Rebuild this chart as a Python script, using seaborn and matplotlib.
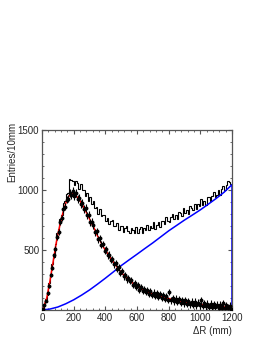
import numpy as np
import matplotlib
matplotlib.use('Agg')
import matplotlib.pyplot as plt
import seaborn as sns
from matplotlib.ticker import MultipleLocator, FixedLocator

# 10 mm bins, 0 - 1200 mm
bin_width = 10
centres = np.arange(5, 1200, bin_width)
edges = np.arange(0, 1201, bin_width)

# total histogram (signal + background)
hist_total = [16, 38, 90, 128, 222, 284, 386, 444, 548, 638,
              672, 758, 795, 894, 909, 964, 977, 1096, 1088, 1072,
              1044, 1076, 1055, 1011, 1050, 1001, 1002, 954, 972, 910,
              939, 885, 909, 847, 855, 802, 844, 786, 788, 794,
              740, 765, 713, 740, 752, 698, 701, 722, 663, 699,
              701, 654, 681, 699, 655, 640, 685, 669, 646, 693,
              642, 676, 692, 641, 681, 665, 708, 663, 704, 686,
              731, 679, 705, 737, 691, 745, 739, 719, 778, 742,
              732, 778, 798, 760, 790, 756, 814, 805, 785, 850,
              806, 836, 804, 864, 851, 833, 888, 840, 883, 869,
              922, 873, 906, 879, 942, 939, 908, 949, 982, 940,
              961, 1004, 963, 1008, 1034, 1002, 1045, 1077, 1069, 1051]

# background subtracted signal points and their errors
signal_pts = [10, 45, 72, 138, 198, 292, 352, 455, 510, 610,
              648, 735, 768, 840, 860, 920, 928, 975, 955, 990,
              950, 972, 925, 938, 885, 895, 840, 850, 790, 795,
              730, 735, 705, 650, 655, 590, 600, 545, 550, 495,
              505, 455, 462, 418, 425, 380, 392, 345, 355, 310,
              325, 280, 295, 255, 270, 238, 250, 210, 228, 195,
              205, 170, 195, 160, 178, 150, 168, 135, 160, 125,
              145, 118, 138, 108, 130, 100, 122, 95, 115, 85,
              150, 80, 100, 72, 95, 70, 88, 62, 82, 58,
              80, 52, 75, 48, 70, 45, 68, 40, 62, 38,
              80, 35, 55, 30, 52, 28, 50, 25, 48, 22,
              45, 20, 42, 18, 55, 15, 38, 16, 30, 12]
signal_err = [4, 6, 9, 11, 15, 17, 20, 21, 23, 25,
              26, 28, 28, 30, 30, 31, 31, 33, 33, 33,
              32, 33, 32, 32, 32, 32, 32, 31, 31, 30,
              31, 30, 30, 29, 29, 28, 29, 28, 28, 28,
              27, 28, 27, 27, 27, 26, 26, 27, 26, 26,
              26, 26, 26, 26, 26, 25, 26, 26, 25, 26,
              25, 26, 26, 25, 26, 26, 27, 26, 27, 26,
              27, 26, 27, 27, 26, 27, 27, 27, 28, 27,
              27, 28, 28, 28, 28, 28, 29, 28, 28, 29,
              28, 29, 28, 29, 29, 29, 30, 29, 30, 29,
              30, 30, 30, 30, 31, 31, 30, 31, 31, 31,
              31, 32, 31, 32, 32, 32, 32, 33, 33, 32]

# signal fit curve
fit_x = [0, 10, 30, 50, 70, 90, 110, 130, 150, 170, 190,
         210, 230, 250, 270, 290, 310, 330, 350, 370, 390,
         410, 430, 450, 470, 490, 510, 530, 550, 570, 590,
         610, 630, 650, 670, 690, 710, 730, 750, 770, 790,
         810, 830, 850, 870, 890, 910, 930, 950, 970, 990,
         1010, 1030, 1050, 1070, 1090, 1110, 1130, 1150, 1170, 1190, 1200]
fit_y = [0, 25, 100, 240, 400, 560, 690, 800, 890, 950, 970,
         960, 930, 890, 840, 790, 730, 680, 620, 570, 520,
         480, 440, 400, 365, 330, 300, 275, 250, 228, 208,
         190, 175, 162, 150, 140, 130, 122, 114, 106, 99,
         92, 86, 80, 75, 70, 65, 60, 56, 52, 48,
         45, 42, 39, 36, 33, 31, 28, 26, 24, 22, 21]

# background curve (drops to zero at the end of the range)
bg_x = [0, 50, 100, 150, 200, 250, 300, 350, 400, 450, 500, 550, 600,
        650, 700, 750, 800, 850, 900, 950, 1000, 1050, 1100, 1150, 1200, 1200]
bg_y = [0, 8, 25, 52, 85, 124, 167, 215, 265, 317, 370, 418, 465,
        513, 560, 610, 660, 705, 750, 792, 835, 882, 930, 982, 1045, 0]

sns.set_style('ticks')
plt.rcParams['font.family'] = ['Liberation Sans', 'DejaVu Sans']
plt.rcParams['font.size'] = 7

fig = plt.figure(figsize=(2.67, 3.46), dpi=100)
ax = fig.add_axes([0.1573, 0.104, 0.7116, 0.520])

ax.stairs(hist_total, edges, baseline=None, color='black', lw=0.8)
sns.lineplot(x=bg_x, y=bg_y, sort=False, estimator=None, color='#0000ff',
             lw=1.1, ax=ax)
sns.lineplot(x=fit_x, y=fit_y, sort=False, estimator=None, color='#ff0000',
             lw=1.1, ax=ax)
ax.errorbar(centres, signal_pts, yerr=signal_err, xerr=bin_width / 2,
            fmt='o', color='black', ms=1.8, elinewidth=0.8, capsize=0,
            zorder=5)

ax.set_xlim(0, 1200)
ax.set_ylim(0, 1500)
ax.xaxis.set_major_locator(MultipleLocator(200))
ax.xaxis.set_minor_locator(MultipleLocator(40))
ax.yaxis.set_major_locator(FixedLocator([500, 1000, 1500]))
ax.yaxis.set_minor_locator(MultipleLocator(100))
ax.tick_params(which='both', direction='in', top=True, right=True,
               color='#555555', labelsize=7, pad=2)
ax.tick_params(which='major', length=3, width=0.8)
ax.tick_params(which='minor', length=1.6, width=0.6)
for s in ax.spines.values():
    s.set_color('#555555')
    s.set_linewidth(0.9)

ax.set_xlabel('')
ax.set_ylabel('')
fig.text(12 / 267, 1 - 122 / 346, 'Entries/10mm', rotation=90,
         ha='center', va='top', fontsize=7)
fig.text(232 / 267, 1 - 331 / 346, '\u0394R (mm)', ha='right',
         va='center', fontsize=7)

fig.savefig('out.png', dpi=100)
